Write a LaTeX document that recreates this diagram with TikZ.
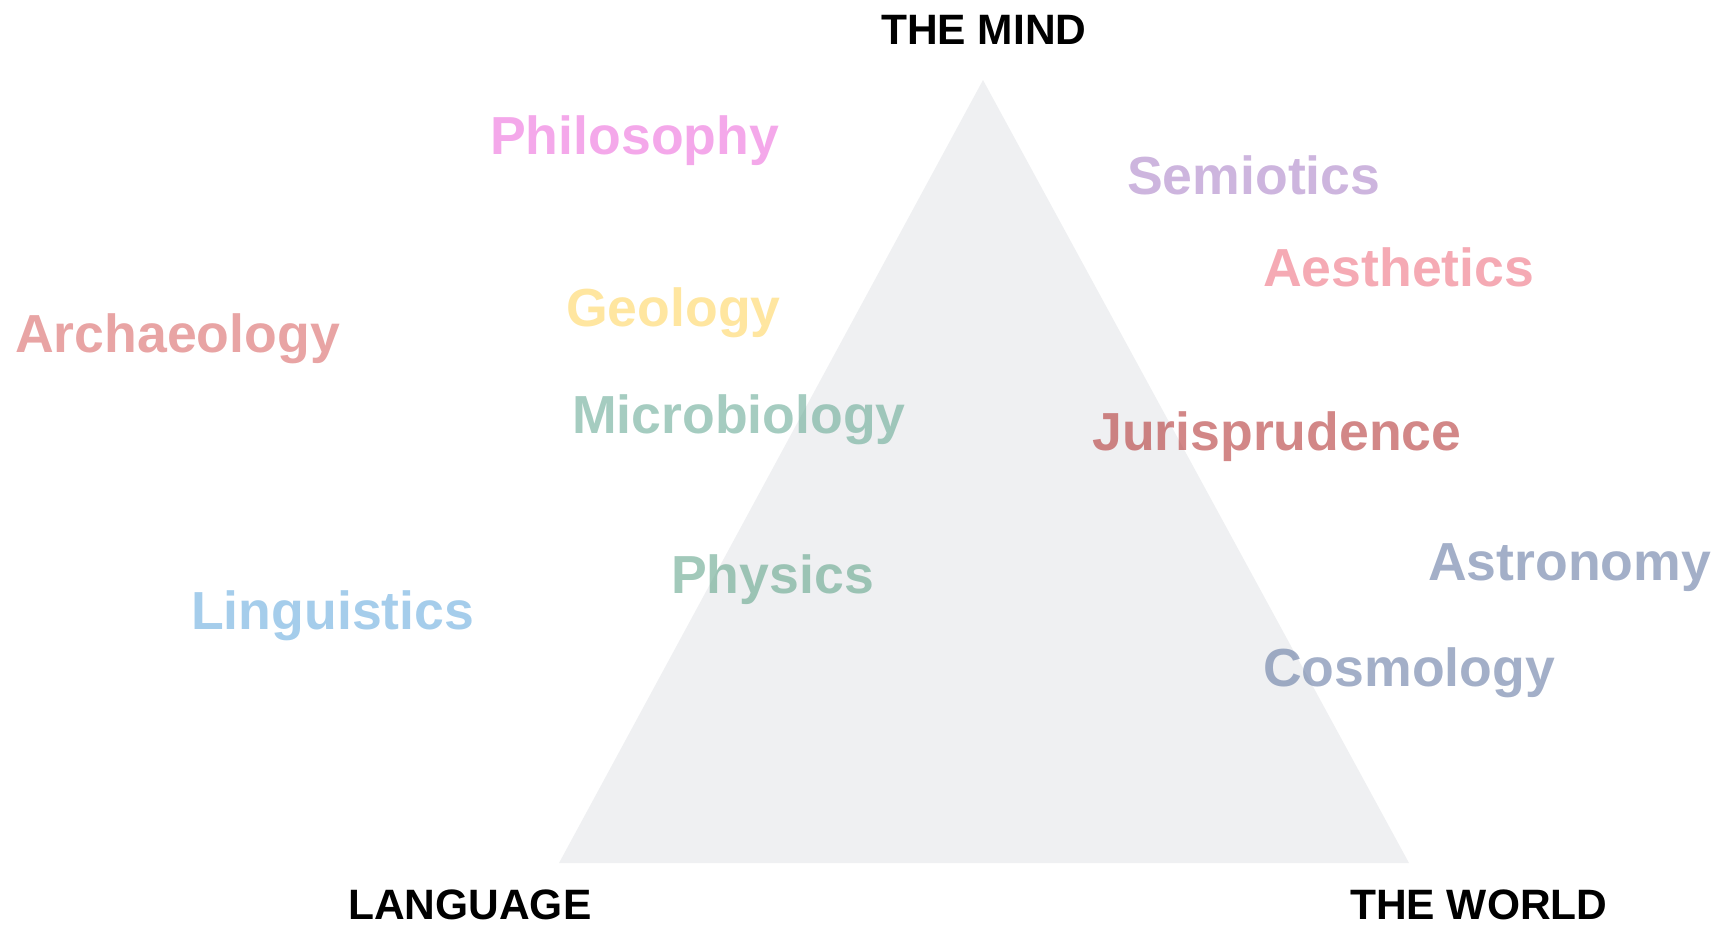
\documentclass[tikz,border=0pt]{standalone}
\usepackage{fontspec}
\setmainfont{Liberation Sans}
\definecolor{trifill}{RGB}{239,240,242}
\definecolor{cPhil}{RGB}{237,110,220}
\definecolor{cArch}{RGB}{217,103,103}
\definecolor{cSemi}{RGB}{172,132,200}
\definecolor{cAest}{RGB}{238,113,130}
\definecolor{cGeol}{RGB}{255,213,97}
\definecolor{cMicr}{RGB}{105,170,150}
\definecolor{cPhys}{RGB}{100,165,140}
\definecolor{cJuri}{RGB}{180,55,55}
\definecolor{cAstr}{RGB}{102,122,163}
\definecolor{cLing}{RGB}{105,172,222}
\tikzset{
  field/.style={anchor=base west, inner sep=0pt, text opacity=0.6,
    font=\bfseries\fontsize{53.6}{60}\selectfont},
  pole/.style={anchor=base west, inner sep=0pt, text=black,
    font=\bfseries\fontsize{42.5}{48}\selectfont},
}
\begin{document}
\begin{tikzpicture}[x=1pt,y=-1pt]
\useasboundingbox (0,0) rectangle (1726,928);
\fill[trifill] (983,80) -- (1409,863) -- (559,863) -- cycle;
\node[pole] (mind) at (881,45) {THE MIND};
\node[pole] (lang) at (348,919) {LANGUAGE};
\node[pole] (world) at (1350,919) {THE WORLD};
\node[field, text=cPhil] (phil) at (490,155) {Philosophy};
\node[field, text=cArch] (arch) at (15,352) {Archaeology};
\node[field, text=cSemi] (semi) at (1127,195) {Semiotics};
\node[field, text=cAest] (aest) at (1263,286) {Aesthetics};
\node[field, text=cGeol] (geol) at (566,326) {Geology};
\node[field, text=cMicr] (micr) at (572,433) {Microbiology};
\node[field, text=cJuri] (juri) at (1092,450) {Jurisprudence};
\node[field, text=cPhys] (phys) at (671,593) {Physics};
\node[field, text=cAstr] (astr) at (1428,580) {Astronomy};
\node[field, text=cLing] (ling) at (191,629) {Linguistics};
\node[field, text=cAstr] (cosm) at (1263,686) {Cosmology};
\end{tikzpicture}
\end{document}
